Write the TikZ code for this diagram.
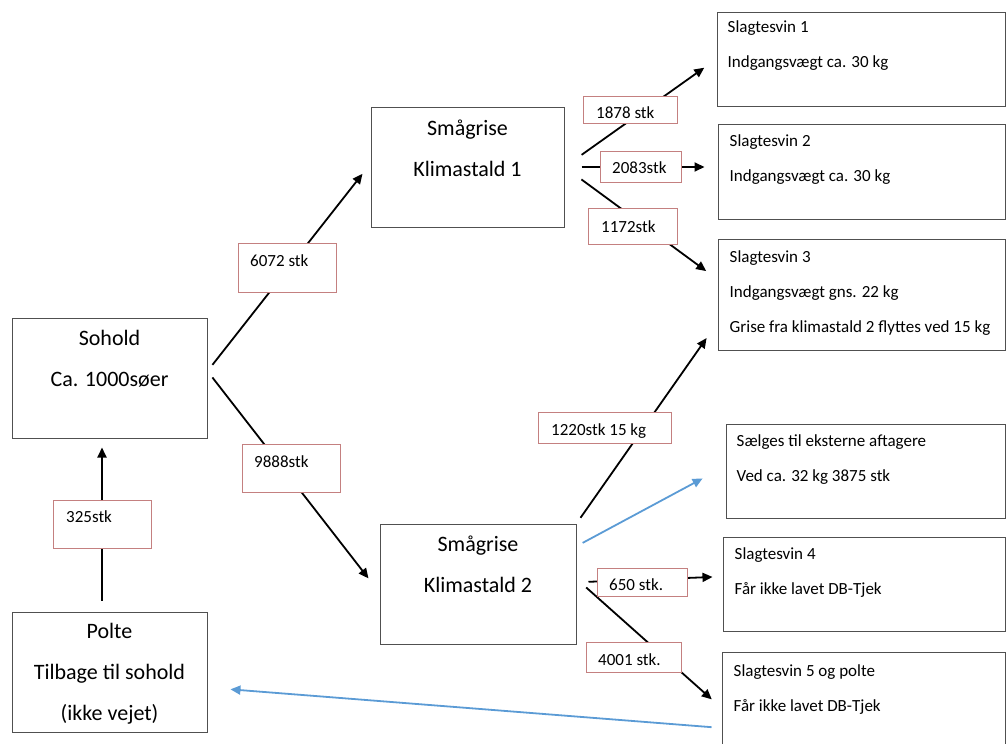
\documentclass[tikz,border=0pt]{standalone}
\usepackage{fontspec}
\setmainfont{Carlito}
\usetikzlibrary{positioning,arrows.meta}

\definecolor{tagred}{RGB}{196,128,128}
\definecolor{flowblue}{RGB}{91,155,213}
\definecolor{boxgrey}{RGB}{80,80,80}

\begin{document}
\begin{tikzpicture}[x=1pt, y=-1pt,
	box/.style={draw=boxgrey, line width=1pt, rectangle, inner sep=0pt},
	tag/.style={draw=tagred, line width=0.8pt, fill=white, rectangle, inner sep=0pt, anchor=north west},
	big/.style={font=\fontsize{22}{41}\selectfont, align=center, inner sep=0pt, anchor=base},
	small/.style={font=\fontsize{17}{35}\selectfont, align=left, inner sep=0pt, anchor=base west},
	tagtext/.style={font=\fontsize{17}{20}\selectfont, inner sep=0pt, anchor=base west},
	flow/.style={line width=1.8pt, -{Triangle[length=10pt,width=9pt]}}]
			\useasboundingbox (0,0) rectangle (1007,744);
			\clip (0,0) rectangle (1007,744);

			\node[box, minimum width=195, minimum height=120] (sohold) at (109.5,378) {};
			\node[box, minimum width=195, minimum height=120] (polte) at (109.5,672) {};
			\node[box, minimum width=193, minimum height=120] (ks1) at (467.5,167) {};
			\node[box, minimum width=196, minimum height=120] (ks2) at (478,584) {};
			\node[box, minimum width=288, minimum height=94] (sv1) at (861,59) {};
			\node[box, minimum width=287, minimum height=95] (sv2) at (861.5,171.5) {};
			\node[box, minimum width=287, minimum height=111] (sv3) at (861.5,294.5) {};
			\node[box, minimum width=279, minimum height=94] (salg) at (865.5,471) {};
			\node[box, minimum width=282, minimum height=94] (sv4) at (864,584) {};
			\node[box, minimum width=283, minimum height=112] (sv5) at (863.5,708) {};

			% base of a multi-line node sits on its last line
			\node[below=69pt of sohold.north, big] (sohold-t) {Sohold\\Ca. 1000søer};
			\node[below=109pt of polte.north, big] (polte-t) {Polte\\Tilbage til sohold\\(ikke vejet)};
			\node[below=70pt of ks1.north, big] (ks1-t) {Smågrise\\Klimastald 1};
			\node[below=69pt of ks2.north, big] (ks2-t) {Smågrise\\Klimastald 2};

			\node[below right=56pt and 11pt of sv1.north west, small] (sv1-t) {Slagtesvin 1\\Indgangsvægt ca. 30 kg};
			\node[below right=58pt and 12pt of sv2.north west, small] (sv2-t) {Slagtesvin 2\\Indgangsvægt ca. 30 kg};
			\node[below right=94pt and 12pt of sv3.north west, small] (sv3-t) {Slagtesvin 3\\Indgangsvægt gns. 22 kg\\Grise fra klimastald 2 flyttes ved 15 kg};
			\node[below right=58pt and 11pt of salg.north west, small] (salg-t) {Sælges til eksterne aftagere\\Ved ca. 32 kg 3875 stk};
			\node[below right=58pt and 12pt of sv4.north west, small] (sv4-t) {Slagtesvin 4\\Får ikke lavet DB-Tjek};
			\node[below right=60pt and 12pt of sv5.north west, small] (sv5-t) {Slagtesvin 5 og polte\\Får ikke lavet DB-Tjek};

			\path[flow]
				([xshift=-7.5pt]polte.north) edge[shorten <=11pt, shorten >=9pt] ([xshift=-7.5pt]sohold.south)
				(sohold.4) edge[shorten <=8pt, shorten >=13pt] (ks1.178)
				(sohold.4) edge[shorten <=8pt, shorten >=18pt] (ks2.185)
				(ks1.east) edge[shorten <=21pt, shorten >=15pt] (sv1.west)
				(ks1.east) edge[shorten <=17pt, shorten >=13pt] (ks1.east -| sv2.west)
				(ks1.east) edge[shorten <=21pt, shorten >=14pt] (sv3.174)
				(ks2.north east) edge[shorten <=7pt, shorten >=19pt] (sv3.191)
				(ks2.1) edge[shorten <=12pt, shorten >=10pt] (sv4.177)
				(ks2.3) edge[shorten <=13pt, shorten >=13pt] (sv5.west)
			;
			\path[flow, flowblue]
				(ks2.21) edge[shorten <=7pt, shorten >=26pt] (salg.178)
				(sv5.188) edge[shorten <=10pt, shorten >=23pt] (polte.-9)
			;

			\node[tag, minimum width=98, minimum height=48] (l325) at (53,500) {};
			\node[tag, minimum width=98, minimum height=49] (l6072) at (238,243) {};
			\node[tag, minimum width=98, minimum height=48] (l9888) at (242,444) {};
			\node[tag, minimum width=94, minimum height=27] (l1878) at (583,96) {};
			\node[tag, minimum width=81, minimum height=31] (l2083) at (600,151) {};
			\node[tag, minimum width=89, minimum height=36] (l1172) at (588,208) {};
			\node[tag, minimum width=133, minimum height=31] (l1220) at (538,412) {};
			\node[tag, minimum width=90, minimum height=28] (l650) at (597,568) {};
			\node[tag, minimum width=95, minimum height=30] (l4001) at (586,642) {};

			\node[below right=22pt and 13pt of l325.north west, tagtext] (l325-t) {325stk};
			\node[below right=23pt and 12pt of l6072.north west, tagtext] (l6072-t) {6072 stk};
			\node[below right=23pt and 12pt of l9888.north west, tagtext] (l9888-t) {9888stk};
			\node[below right=22pt and 13pt of l1878.north west, tagtext] (l1878-t) {1878 stk};
			\node[below right=22pt and 12pt of l2083.north west, tagtext] (l2083-t) {2083stk};
			\node[below right=24pt and 13pt of l1172.north west, tagtext] (l1172-t) {1172stk};
			\node[below right=23pt and 13pt of l1220.north west, tagtext] (l1220-t) {1220stk 15 kg};
			\node[below right=22pt and 12pt of l650.north west, tagtext] (l650-t) {650 stk.};
			\node[below right=23pt and 12pt of l4001.north west, tagtext] (l4001-t) {4001 stk.};
		\end{tikzpicture}
\end{document}
